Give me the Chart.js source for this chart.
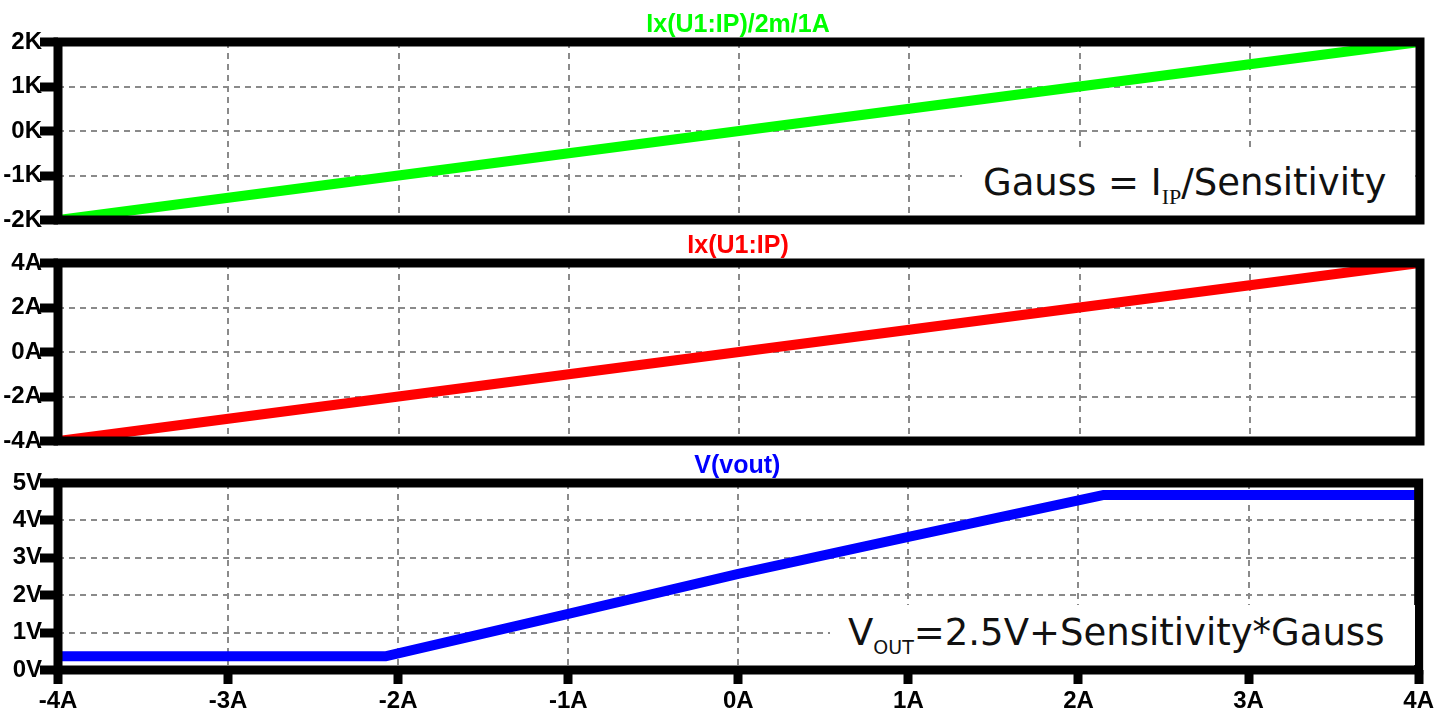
<!DOCTYPE html>
<html>
<head>
<meta charset="utf-8">
<script src="https://cdn.jsdelivr.net/npm/chart.js@4.4.1/dist/chart.umd.min.js"></script>
<style>
    body { margin: 0; background: #fff; width: 1437px; height: 717px; overflow: hidden; }
    canvas { position: absolute; left: 0; top: 0; }
    .note {
        position: absolute; background: #fff; z-index: 10;
        font-family: "DejaVu Sans", sans-serif; font-size: 37px; color: #111;
        line-height: 37px; white-space: nowrap;
    }
    .note span { position: absolute; }
    .sub-serif { font-family: "Liberation Serif", serif; font-size: 22px; }
    .sub-sans { font-size: 19px; }
</style>
</head>
<body>
<canvas id="gaussChart" width="1437" height="717"></canvas>
<canvas id="ipChart" width="1437" height="717"></canvas>
<canvas id="voutChart" width="1437" height="717"></canvas>

<div class="note" style="left:962px; top:148px; width:453px; height:67px;">
    <span style="left:21px; top:16px;">Gauss = I<span class="sub-serif" style="position:relative; top:9px;">IP</span>/Sensitivity</span>
</div>
<div class="note" style="left:830px; top:605px; width:585px; height:60px;">
    <span style="left:18px; top:9px;">V<span class="sub-sans" style="position:relative; top:9px;">OUT</span>=2.5V+Sensitivity*Gauss</span>
</div>

<script>
// sweep of the primary current (x axis)
const currentA = [-4, -3, -2, -1, 0, 1, 2, 3, 4];
const xTicks = [-4, -3, -2, -1, 0, 1, 2, 3, 4];

// top: Ix(U1:IP)/2m/1A  (gauss)
const gaussTitle = "Ix(U1:IP)/2m/1A";
const gaussValues = [-2000, -1500, -1000, -500, 0, 500, 1000, 1500, 2000];

// middle: Ix(U1:IP)
const ipTitle = "Ix(U1:IP)";
const ipValues = [-4, -3, -2, -1, 0, 1, 2, 3, 4];

// bottom: V(vout), clamps at both ends
const voutTitle = "V(vout)";
const voutX = [-4, -2.07, -1, 0, 1, 2.15, 4];
const voutValues = [0.37, 0.37, 1.5, 2.57, 3.56, 4.68, 4.68];

const tickFont = { family: "Liberation Sans", size: 24, weight: "bold" };

// thick black frame + coloured title above each panel
const panelFrame = {
    id: "panelFrame",
    afterDatasetsDraw(chart, args, opts) {
        const { ctx, chartArea: a } = chart;
        ctx.save();
        ctx.strokeStyle = "#000";
        ctx.lineWidth = 9;
        ctx.strokeRect(a.left, a.top, a.right - a.left, a.bottom - a.top);
        ctx.font = "bold 25px 'Liberation Sans'";
        ctx.fillStyle = opts.color;
        ctx.textAlign = "center";
        ctx.textBaseline = "alphabetic";
        ctx.fillText(opts.title, (a.left + a.right) / 2 - 1, a.top - 10);
        ctx.restore();
    }
};

function makePanel(id, opts) {
    const points = opts.xs.map((x, i) => ({ x: x, y: opts.ys[i] }));
    const showX = !!opts.showX;
    return new Chart(document.getElementById(id), {
        type: "line",
        data: {
            datasets: [{
                data: points,
                borderColor: opts.color,
                borderWidth: 10,
                borderCapStyle: "round",
                borderJoinStyle: "round",
                pointRadius: 0,
                tension: 0
            }]
        },
        options: {
            responsive: false,
            animation: false,
            layout: { padding: { left: 0, right: 17, top: opts.top, bottom: showX ? 0 : 717 - opts.bottom } },
            plugins: {
                legend: { display: false },
                tooltip: { enabled: false },
                panelFrame: { title: opts.title, color: opts.color }
            },
            scales: {
                x: {
                    type: "linear",
                    min: -4, max: 4,
                    afterBuildTicks: s => { s.ticks = xTicks.map(v => ({ value: v })); },
                    afterFit: s => { s.height = showX ? 717 - opts.bottom : 0; },
                    border: { display: false, dash: [6, 5] },
                    grid: {
                        color: "#8a8a8a", lineWidth: 2,
                        drawTicks: showX, tickLength: 14, tickWidth: 9, tickColor: "#000"
                    },
                    ticks: {
                        display: showX, padding: 3, color: "#000", font: tickFont,
                        autoSkip: false, maxRotation: 0,
                        callback: v => v + "A"
                    }
                },
                y: {
                    min: opts.min, max: opts.max,
                    afterBuildTicks: s => { s.ticks = opts.yTicks.map(v => ({ value: v })); },
                    afterFit: s => { s.width = 58; },
                    border: { display: false, dash: [6, 5] },
                    grid: {
                        color: "#8a8a8a", lineWidth: 2,
                        drawTicks: true, tickLength: 18, tickWidth: 9, tickColor: "#000"
                    },
                    ticks: {
                        padding: -2, color: "#000", font: tickFont, autoSkip: false,
                        callback: opts.fmt
                    }
                }
            }
        },
        plugins: [panelFrame]
    });
}

makePanel("gaussChart", {
    xs: currentA, ys: gaussValues, color: "#00ff00", title: gaussTitle,
    top: 42, bottom: 220, min: -2000, max: 2000,
    yTicks: [-2000, -1000, 0, 1000, 2000],
    fmt: v => (v / 1000) + "K"
});

makePanel("ipChart", {
    xs: currentA, ys: ipValues, color: "#ff0000", title: ipTitle,
    top: 263, bottom: 441, min: -4, max: 4,
    yTicks: [-4, -2, 0, 2, 4],
    fmt: v => v + "A"
});

makePanel("voutChart", {
    xs: voutX, ys: voutValues, color: "#0000ff", title: voutTitle,
    top: 483, bottom: 670, min: 0, max: 5, showX: true,
    yTicks: [0, 1, 2, 3, 4, 5],
    fmt: v => v + "V"
});
</script>
</body>
</html>
